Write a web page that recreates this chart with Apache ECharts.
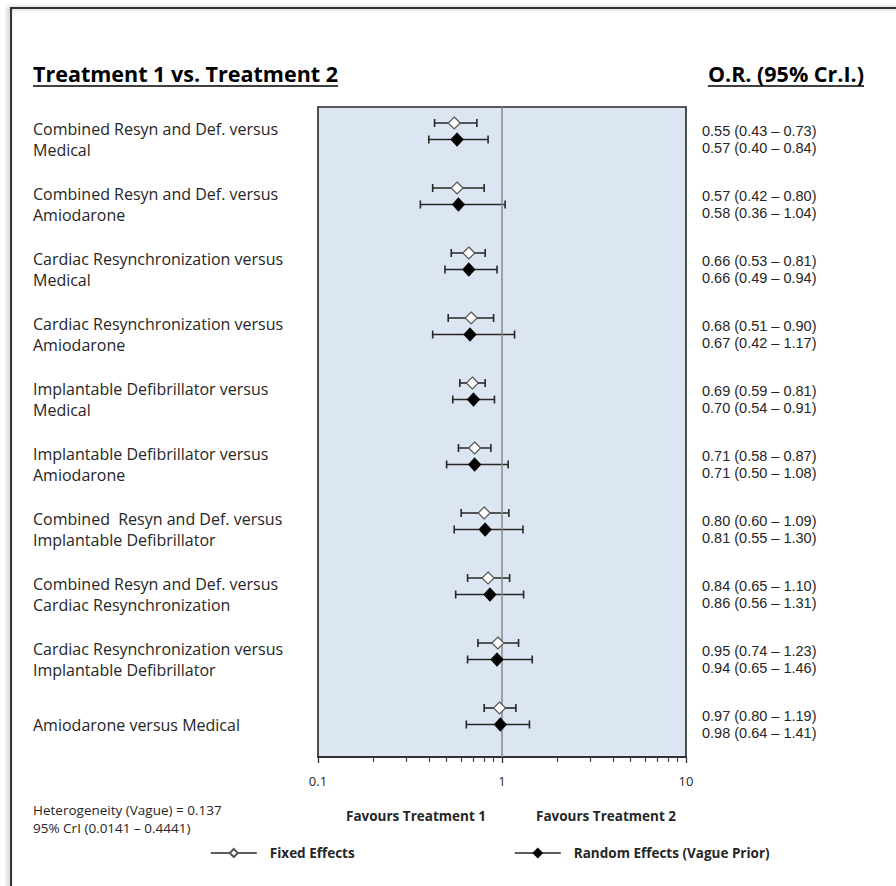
<!DOCTYPE html>
<html><head><meta charset="utf-8">
<script src="https://cdn.jsdelivr.net/npm/echarts@6/dist/echarts.min.js"></script>
<style>html,body{margin:0;padding:0;background:#fff}#c{width:896px;height:886px}</style>
</head><body><div id="c"></div>
<script>
const comparisons = [
  'Combined Resyn and Def. versus\nMedical',
  'Combined Resyn and Def. versus\nAmiodarone',
  'Cardiac Resynchronization versus\nMedical',
  'Cardiac Resynchronization versus\nAmiodarone',
  'Implantable Defibrillator versus\nMedical',
  'Implantable Defibrillator versus\nAmiodarone',
  'Combined  Resyn and Def. versus\nImplantable Defibrillator',
  'Combined Resyn and Def. versus\nCardiac Resynchronization',
  'Cardiac Resynchronization versus\nImplantable Defibrillator',
  'Amiodarone versus Medical'
];
const fixedOR  = [0.55, 0.57, 0.66, 0.68, 0.69, 0.71, 0.80, 0.84, 0.95, 0.97];
const fixedLo  = [0.43, 0.42, 0.53, 0.51, 0.59, 0.58, 0.60, 0.65, 0.74, 0.80];
const fixedHi  = [0.73, 0.80, 0.81, 0.90, 0.81, 0.87, 1.09, 1.10, 1.23, 1.19];
const randomOR = [0.57, 0.58, 0.66, 0.67, 0.70, 0.71, 0.81, 0.86, 0.94, 0.98];
const randomLo = [0.40, 0.36, 0.49, 0.42, 0.54, 0.50, 0.55, 0.56, 0.65, 0.64];
const randomHi = [0.84, 1.04, 0.94, 1.17, 0.91, 1.08, 1.30, 1.31, 1.46, 1.41];
const xTickValues = [0.1, 1, 10];
const heterogeneity = ['Heterogeneity (Vague) = 0.137', '95% CrI (0.0141 \u2013 0.4441)'];

const FONT = '"Open Sans", "Noto Sans", sans-serif';
const NUM_FONT = '"Liberation Sans", Arial, sans-serif';
const f2 = v => v.toFixed(2);
const orLabels = comparisons.map((c, i) =>
  f2(fixedOR[i]) + ' (' + f2(fixedLo[i]) + ' \u2013 ' + f2(fixedHi[i]) + ')\n' +
  f2(randomOR[i]) + ' (' + f2(randomLo[i]) + ' \u2013 ' + f2(randomHi[i]) + ')');

const FIX_OFF = 0.246, RND_OFF = 0.5;
const fixedBars = fixedOR.map((v, i) => [fixedLo[i], fixedHi[i], i + FIX_OFF]);
const randomBars = randomOR.map((v, i) => [randomLo[i], randomHi[i], i + RND_OFF]);
const fixedPts = fixedOR.map((v, i) => [v, i + FIX_OFF]);
const randomPts = randomOR.map((v, i) => [v, i + RND_OFF]);

function measure(text, font) {
  const ctx = document.createElement('canvas').getContext('2d');
  ctx.font = font;
  return ctx.measureText(text).width;
}

function errRender(params, api) {
  const y = api.value(2);
  const a = api.coord([api.value(0), y]);
  const b = api.coord([api.value(1), y]);
  const h = 4;
  const st = { stroke: '#262626', lineWidth: 1.6 };
  return { type: 'group', children: [
    { type: 'line', shape: { x1: a[0], y1: a[1], x2: b[0], y2: b[1] }, style: st },
    { type: 'line', shape: { x1: a[0], y1: a[1] - h, x2: a[0], y2: a[1] + h }, style: st },
    { type: 'line', shape: { x1: b[0], y1: b[1] - h, x2: b[0], y2: b[1] + h }, style: st }
  ]};
}

const titleFont = 'bold 21.5px ' + FONT;
const t1 = 'Treatment 1 vs. Treatment 2';
const t2 = 'O.R. (95% Cr.I.)';
const w1 = measure(t1, titleFont), w2 = measure(t2, titleFont);

const legendText = { fontWeight: 'bold', fontSize: 13.5, color: '#262626', fontFamily: FONT, padding: [0, 0, 0, 8] };

const chart = echarts.init(document.getElementById('c'), null, { renderer: 'svg' });
chart.setOption({
  animation: false,
  backgroundColor: '#fff',
  grid: { left: 318, right: 210, top: 107, bottom: 129, show: true,
          backgroundColor: '#dce6f2', borderColor: '#262626', borderWidth: 1.6 },
  xAxis: {
    type: 'log', logBase: 10, min: xTickValues[0], max: xTickValues[xTickValues.length - 1],
    position: 'bottom',
    axisLine: { show: true, onZero: false, lineStyle: { color: '#262626', width: 1.6 } },
    axisTick: { show: true, inside: false, length: 6, lineStyle: { color: '#333', width: 1.3 } },
    minorTick: { show: true, splitNumber: 9, length: 5, lineStyle: { color: '#444', width: 1.2 } },
    splitLine: { show: false },
    axisLabel: { color: '#262626', fontSize: 13, fontFamily: FONT, margin: 17,
                 formatter: v => String(v) }
  },
  yAxis: [
    { type: 'category', inverse: true, data: comparisons, position: 'left',
      axisLine: { show: false }, axisTick: { show: false },
      axisLabel: { align: 'left', margin: 285, color: '#262626', fontSize: 16,
                   lineHeight: 21, fontFamily: FONT } },
    { type: 'category', inverse: true, data: orLabels, position: 'right',
      axisLine: { show: false }, axisTick: { show: false },
      axisLabel: { align: 'left', margin: 16, color: '#262626', fontSize: 14.5,
                   lineHeight: 16.5, fontFamily: NUM_FONT, padding: [0, 0, 3, 0] } },
    { type: 'value', inverse: true, min: 0, max: 10, show: false }
  ],
  legend: [
    { data: ['Fixed Effects'], left: 210, top: 846, padding: 0, itemWidth: 46, itemHeight: 10,
      lineStyle: { color: '#262626', width: 1.6, opacity: 1 }, textStyle: legendText },
    { data: ['Random Effects (Vague Prior)'], left: 514, top: 846, padding: 0, itemWidth: 46, itemHeight: 10,
      lineStyle: { color: '#262626', width: 1.6, opacity: 1 }, textStyle: legendText }
  ],
  series: [
    { type: 'custom', name: 'fixedCI', yAxisIndex: 2, renderItem: errRender, data: fixedBars, z: 3,
      encode: { x: [0, 1], y: 2 } },
    { type: 'custom', name: 'randomCI', yAxisIndex: 2, renderItem: errRender, data: randomBars, z: 3,
      encode: { x: [0, 1], y: 2 } },
    { type: 'line', name: 'Fixed Effects', yAxisIndex: 2, data: fixedPts, symbol: 'diamond',
      symbolSize: [12, 12], lineStyle: { width: 0, opacity: 0 }, z: 5,
      itemStyle: { color: '#fff', borderColor: '#555', borderWidth: 1.2 },
      markLine: { silent: true, symbol: 'none', label: { show: false },
                  lineStyle: { color: '#8a8a8a', width: 1.5, type: 'solid' },
                  data: [{ xAxis: xTickValues[1] }] } },
    { type: 'line', name: 'Random Effects (Vague Prior)', yAxisIndex: 2, data: randomPts, symbol: 'diamond',
      symbolSize: [12, 13], lineStyle: { width: 0, opacity: 0 }, z: 5,
      itemStyle: { color: '#000', borderColor: '#000', borderWidth: 1 } }
  ],
  graphic: [
    { type: 'rect', z: -10, shape: { x: 11, y: 8, width: 1000, height: 1000 },
      style: { fill: 'none', stroke: '#333', lineWidth: 2, shadowBlur: 4, shadowColor: 'rgba(0,0,0,0.35)', shadowOffsetX: -2 } },
    { type: 'text', style: { text: t1, x: 33, y: 73, textVerticalAlign: 'middle', font: titleFont, fill: '#000' } },
    { type: 'line', shape: { x1: 33, y1: 86, x2: 33 + w1, y2: 86 }, style: { stroke: '#000', lineWidth: 1.6 } },
    { type: 'text', style: { text: t2, x: 864, y: 73, textAlign: 'right', textVerticalAlign: 'middle', font: titleFont, fill: '#000' } },
    { type: 'line', shape: { x1: 864 - w2, y1: 86, x2: 864, y2: 86 }, style: { stroke: '#000', lineWidth: 1.6 } },
    { type: 'text', style: { text: 'Favours Treatment 1', x: 416, y: 816, textAlign: 'center', textVerticalAlign: 'middle', font: 'bold 13.5px ' + FONT, fill: '#262626' } },
    { type: 'text', style: { text: 'Favours Treatment 2', x: 606, y: 816, textAlign: 'center', textVerticalAlign: 'middle', font: 'bold 13.5px ' + FONT, fill: '#262626' } },
    { type: 'text', style: { text: heterogeneity[0], x: 33, y: 810, textVerticalAlign: 'middle', font: '13.5px ' + FONT, fill: '#262626' } },
    { type: 'text', style: { text: heterogeneity[1], x: 33, y: 828, textVerticalAlign: 'middle', font: '13.5px ' + FONT, fill: '#262626' } }
  ]
});
</script></body></html>
